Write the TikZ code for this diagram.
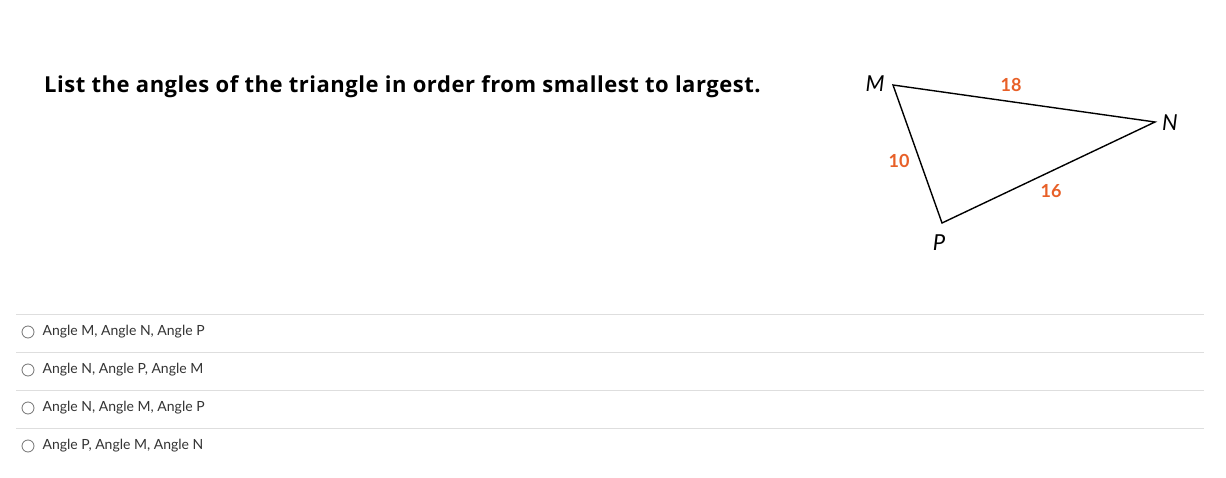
\documentclass[tikz,border=0pt]{standalone}
\usepackage{fontspec}
\setmainfont{Lato}
\newfontfamily\titlefont[LetterSpace=2.4]{Open Sans}
\usepackage{tikz}
\usetikzlibrary{positioning, calc}
\definecolor{sidecol}{RGB}{232,96,40}
\definecolor{rulecol}{RGB}{222,222,222}
\tikzset{
  vertex/.style={font=\fontsize{22}{22}\selectfont\itshape, inner sep=0pt},
  sidelabel/.style={font=\fontsize{18}{18}\selectfont\bfseries, text=sidecol, inner sep=0pt},
  answer/.style={font=\fontsize{14}{14}\selectfont, text=black!80, anchor=west, inner sep=0pt},
  radio/.style={draw=black!55, circle, minimum size=12pt, inner sep=0pt, line width=0.8pt},
}
\begin{document}
\begin{tikzpicture}[x=1pt, y=-1pt]
    \useasboundingbox[fill=white] (0,0) rectangle (1226,478);

    % question
    \node [anchor=base west, inner sep=0pt, font=\titlefont\fontsize{22}{22}\selectfont\bfseries] (question) at (44,93) {List the angles of the triangle in order from smallest to largest.};

    % triangle
    \coordinate (M) at (893,85);
    \coordinate (N) at (1155,122);
    \coordinate (P) at (942,223);
    \draw [line width=1.4pt, line join=miter] (M)--(N)--(P)--cycle;
    \node [vertex] (lM) at (875,84) {M};
    \node [vertex] (lN) at (1170,123) {N};
    \node [vertex] (lP) at (939,243) {P};
    \node [sidelabel] (s18) at (1011,85) {18};
    \node [sidelabel] (s10) at (899,161) {10};
    \node [sidelabel] (s16) at (1051,191) {16};

    % answer rows
    \foreach \y in {314,352,390,428} {
        \draw [rulecol, line width=0.8pt] (16,\y) -- (1204,\y);
    }
    \node [radio] (r1) at (28,332) {};
    \node [radio] (r2) at (28,370) {};
    \node [radio] (r3) at (28,408) {};
    \node [radio] (r4) at (28,446) {};
    \node [answer, right=8pt of r1] (a1) {Angle M, Angle N, Angle P};
    \node [answer, right=8pt of r2] (a2) {Angle N, Angle P, Angle M};
    \node [answer, right=8pt of r3] (a3) {Angle N, Angle M, Angle P};
    \node [answer, right=8pt of r4] (a4) {Angle P, Angle M, Angle N};
  \end{tikzpicture}
\end{document}
